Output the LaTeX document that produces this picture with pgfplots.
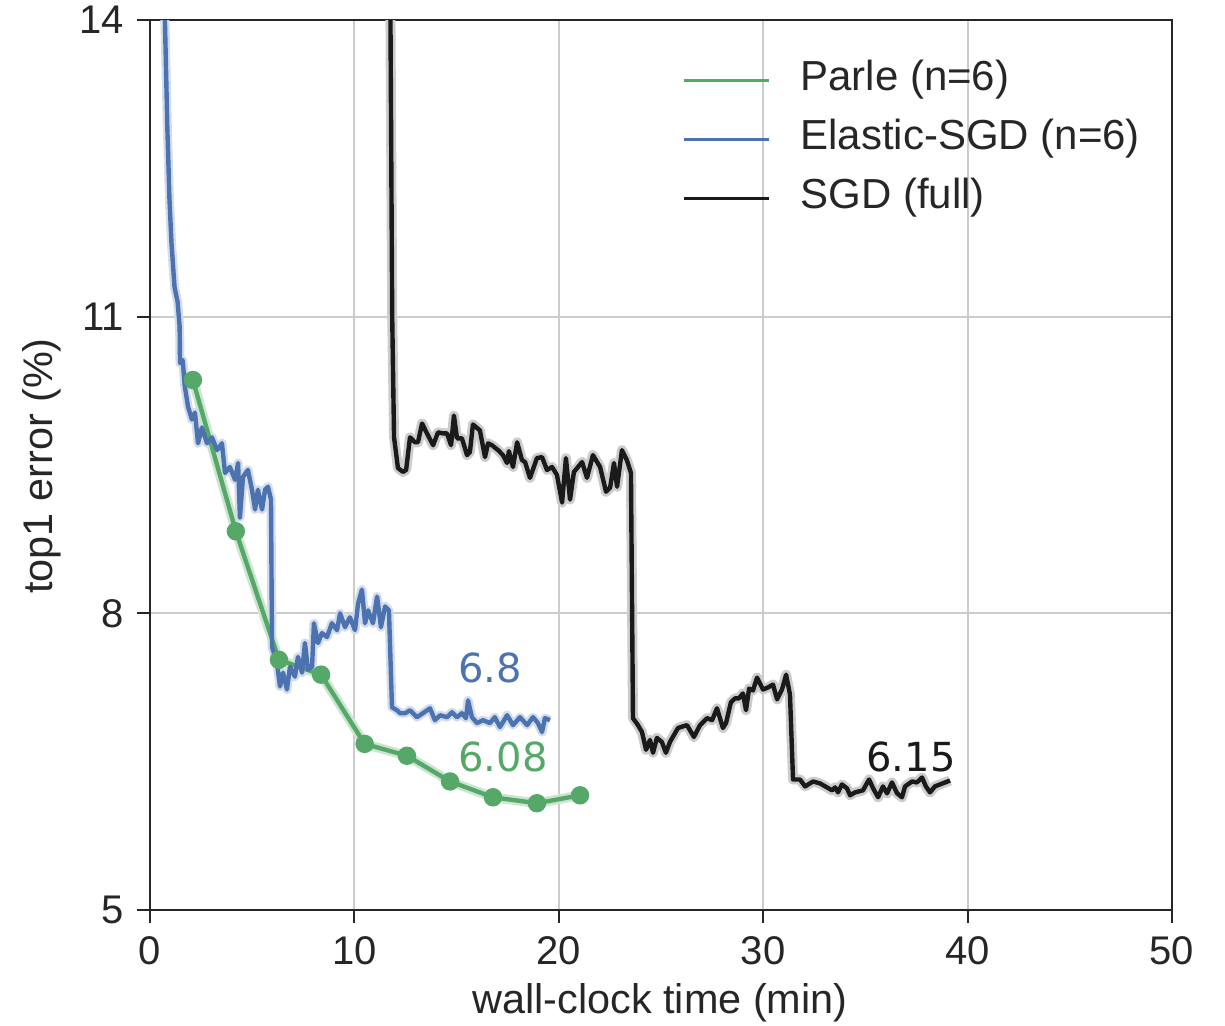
\documentclass[border=0pt]{standalone}
\usepackage{pgfplots}
\pgfplotsset{compat=1.18}
\usepackage{pgfplotstable}
\usepackage{fontspec}
\setmainfont{Liberation Sans}
\newfontfamily\dejavu{DejaVu Sans}
\definecolor{sbblue}{HTML}{4C72B0}
\definecolor{sbgreen}{HTML}{55A868}
\definecolor{sbblack}{HTML}{1A1A1A}
\definecolor{axgray}{HTML}{262626}
\definecolor{gridgray}{HTML}{CCCCCC}

\pgfplotstableread{
x y
2.10 10.36
4.20 8.83
6.31 7.53
8.37 7.38
10.50 6.68
12.57 6.56
14.68 6.30
16.78 6.14
18.93 6.08
21.04 6.16
}\parle

\pgfplotstableread{
x y
0.68 14.3
0.73 14.0
0.85 12.9
0.95 12.2
1.05 11.75
1.20 11.3
1.35 11.15
1.45 10.9
1.47 10.53
1.60 10.56
1.70 10.30
1.86 10.09
2.05 9.96
2.20 10.03
2.35 9.72
2.54 9.88
2.79 9.72
3.03 9.78
3.28 9.65
3.52 9.72
3.67 9.42
3.91 9.48
4.16 9.35
4.31 9.52
4.40 8.97
4.55 9.38
4.79 9.45
4.99 9.25
5.14 9.05
5.28 9.25
5.48 9.05
5.63 9.25
5.77 9.28
5.92 9.15
5.97 7.66
6.21 7.50
6.36 7.26
6.51 7.40
6.70 7.23
6.85 7.46
7.09 7.36
7.24 7.56
7.44 7.40
7.58 7.70
7.73 7.43
7.93 7.46
8.02 7.90
8.22 7.70
8.41 7.80
8.66 7.76
8.90 7.90
9.15 7.83
9.30 8.00
9.54 7.86
9.78 7.96
10.03 7.83
10.18 8.10
10.37 8.24
10.52 7.90
10.67 8.03
10.91 7.90
11.11 8.17
11.30 7.86
11.50 8.07
11.69 8.03
11.84 7.05
12.08 7.02
12.24 6.99
12.48 6.99
12.72 7.02
13.06 6.95
13.35 6.99
13.70 7.04
13.94 6.92
14.19 6.97
14.53 6.95
14.77 7.00
15.02 6.95
15.26 6.99
15.46 6.94
15.56 7.12
15.75 6.95
16.00 6.89
16.29 6.92
16.63 6.89
16.87 6.95
17.12 6.85
17.47 6.97
17.76 6.87
18.10 6.95
18.45 6.87
18.74 6.95
18.98 6.89
19.18 6.80
19.32 6.94
19.57 6.92
}\elastic

\pgfplotstableread{
x y
11.75 14.5
11.85 11.0
11.94 9.78
12.13 9.47
12.38 9.43
12.53 9.45
12.72 9.78
12.96 9.73
13.11 9.73
13.31 9.92
13.55 9.82
13.85 9.70
14.09 9.83
14.33 9.82
14.53 9.82
14.73 9.70
14.87 10.00
15.02 9.77
15.26 9.77
15.51 9.60
15.65 9.63
15.80 9.91
16.14 9.85
16.39 9.58
16.54 9.72
16.73 9.70
17.03 9.65
17.27 9.60
17.47 9.52
17.56 9.64
17.76 9.48
17.96 9.73
18.20 9.55
18.35 9.53
18.59 9.37
18.93 9.57
19.18 9.58
19.42 9.45
19.67 9.48
19.91 9.40
20.16 9.12
20.35 9.57
20.55 9.15
20.74 9.43
21.14 9.53
21.38 9.37
21.67 9.60
22.02 9.48
22.31 9.23
22.51 9.27
22.70 9.52
22.85 9.28
23.09 9.65
23.33 9.55
23.53 9.42
23.63 6.94
23.87 6.87
24.07 6.80
24.27 6.62
24.46 6.72
24.61 6.59
24.80 6.74
25.04 6.70
25.24 6.59
25.44 6.70
25.83 6.84
26.27 6.87
26.61 6.75
26.91 6.87
27.25 6.94
27.50 6.92
27.74 7.04
28.03 6.84
28.18 6.89
28.42 7.10
28.62 7.14
28.81 7.14
29.01 7.19
29.16 7.02
29.31 7.24
29.50 7.22
29.70 7.35
29.99 7.23
30.23 7.25
30.48 7.28
30.68 7.13
30.92 7.23
31.12 7.38
31.31 7.18
31.46 6.32
31.80 6.32
32.05 6.25
32.44 6.30
32.78 6.28
33.12 6.24
33.37 6.21
33.52 6.24
33.66 6.19
33.85 6.27
34.10 6.23
34.25 6.16
34.50 6.19
34.88 6.21
35.18 6.32
35.38 6.23
35.62 6.14
35.86 6.25
36.06 6.18
36.30 6.29
36.55 6.18
36.79 6.14
36.94 6.25
37.28 6.30
37.52 6.29
37.77 6.34
37.96 6.25
38.16 6.19
38.40 6.25
38.65 6.27
38.90 6.29
39.14 6.31
}\sgd

\begin{document}
\fontsize{19}{23}\selectfont
\begin{tikzpicture}
\path[use as bounding box] (-75pt,-57.5pt) rectangle (537.5pt,455pt);
\begin{axis}[
  at={(0,0)}, anchor=south west,
  scale only axis,
  width=511pt, height=445pt,
  xmin=0, xmax=50, ymin=5, ymax=14,
  xtick={0,10,20,30,40,50},
  ytick={5,8,11,14},
  tick align=outside,
  tick pos=left,
  major tick length=6.5pt,
  every tick/.style={axgray, line width=1pt},
  axis line style={axgray, line width=1.2pt},
  grid=major,
  major grid style={gridgray, line width=1pt},
  tick label style={font=\fontsize{20}{24}\selectfont, text=axgray},
  /pgf/number format/assume math mode=true,
  xlabel={wall-clock time (min)},
  ylabel={top1 error (\%)},
  label style={font=\fontsize{20.7}{24}\selectfont, text=axgray},
  xlabel style={at={(axis description cs:0.499,-0.1045)}, anchor=center},
  ylabel style={at={(axis description cs:-0.1057,0.499)}, anchor=center, rotate=0},
  legend style={draw=none, fill=none, at={(0.5206,0.9528)}, anchor=north west,
    inner sep=0pt, row sep=11.5pt, font=\fontsize{21}{25}\selectfont,
    nodes={inner sep=0pt, text height=14pt, text depth=4pt, text=axgray},
    /tikz/every odd column/.append style={column sep=15pt}},
  legend cell align=left,
  legend image code/.code={\draw[#1, line width=1.5pt] (0pt,0pt) -- (42.5pt,0pt);},
  clip=true,
]
% bands
\addplot[forget plot, gray!40, line width=5pt, line join=round] table {\sgd};
\addplot[forget plot, sbblue!25, line width=4.5pt, line join=round] table {\elastic};
\addplot[forget plot, sbgreen!30, line width=4.8pt, line join=round] table {\parle};
% lines
\addplot[sbgreen, line width=2.2pt, mark=*, mark size=3.5pt, mark options={solid, fill=sbgreen, draw=sbgreen}] table {\parle};
\addlegendentry{Parle (n=6)}
\addplot[sbblue, line width=2.2pt, line join=round] table {\elastic};
\addlegendentry{Elastic-SGD (n=6)}
\addplot[sbblack, line width=2.2pt, line join=round] table {\sgd};
\addlegendentry{SGD (full)}
\node[font=\dejavu\fontsize{20}{24}\selectfont, text=sbblue] at (axis cs:16.63,7.45) {6.8};
\node[font=\dejavu\fontsize{20}{24}\selectfont, text=sbgreen] at (axis cs:17.27,6.55) {6.08};
\node[font=\dejavu\fontsize{20}{24}\selectfont, text=sbblack] at (axis cs:37.23,6.55) {6.15};
\end{axis}
\end{tikzpicture}
\end{document}
